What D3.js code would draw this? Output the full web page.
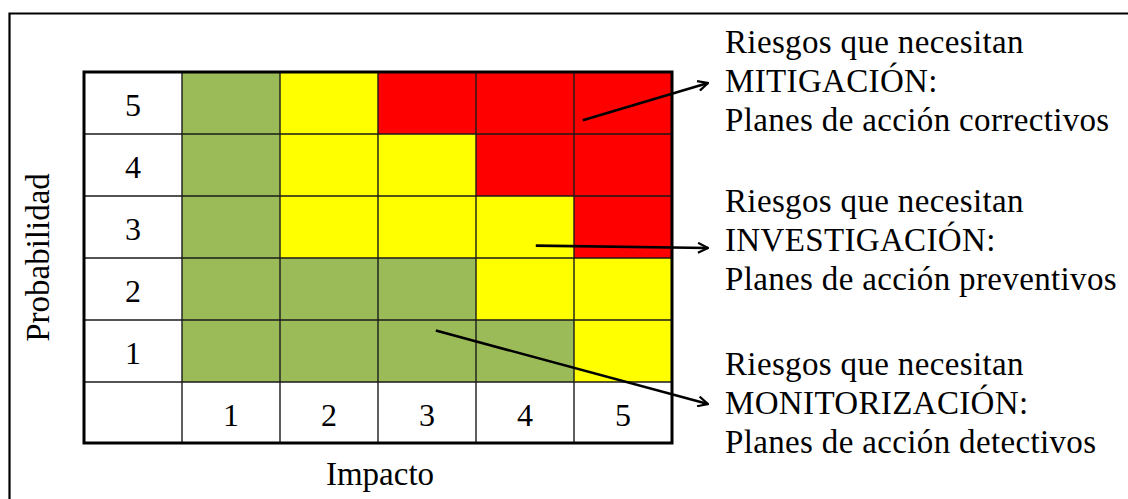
<!DOCTYPE html>
<html>
<head>
<meta charset="utf-8">
<script src="https://cdn.jsdelivr.net/npm/d3@7"></script>
<style>
  html, body { margin: 0; padding: 0; background: #fff; }
  svg { display: block; }
  text { font-family: "Liberation Serif", "Times New Roman", serif; fill: #000; }
</style>
</head>
<body>
<svg id="chart" width="1128" height="499"></svg>
<script>
// Risk matrix: impact (columns) vs probability (rows)
const impacto = [1, 2, 3, 4, 5];
const probabilidad = [5, 4, 3, 2, 1];

// Risk level per row, from impact 1 to 5
const nivelP5 = ["bajo", "medio", "alto", "alto", "alto"];
const nivelP4 = ["bajo", "medio", "medio", "alto", "alto"];
const nivelP3 = ["bajo", "medio", "medio", "medio", "alto"];
const nivelP2 = ["bajo", "bajo", "bajo", "medio", "medio"];
const nivelP1 = ["bajo", "bajo", "bajo", "bajo", "medio"];
const niveles = [nivelP5, nivelP4, nivelP3, nivelP2, nivelP1];

const coloresNivel = { bajo: "#9bbb59", medio: "#ffff00", alto: "#ff0000" };

// Callout text blocks and the cell each arrow starts from
const textoMitigacion = ["Riesgos que necesitan", "MITIGACIÓN:", "Planes de acción correctivos"];
const textoInvestigacion = ["Riesgos que necesitan", "INVESTIGACIÓN:", "Planes de acción preventivos"];
const textoMonitorizacion = ["Riesgos que necesitan", "MONITORIZACIÓN:", "Planes de acción detectivos"];
const celdaMitigacion = { impacto: 5, probabilidad: 5 };
const celdaInvestigacion = { impacto: 4, probabilidad: 3 };
const celdaMonitorizacion = { impacto: 3, probabilidad: 1 };

const svg = d3.select("#chart");
const fontSize = 32;

// Outer frame
svg.append("path")
  .attr("d", "M9.5,1200 L9.5,13.5 L1200,13.5")
  .attr("fill", "none").attr("stroke", "#000").attr("stroke-width", 2.2);

// Layout of the table
const gridLeft = 84, labelRight = 182, gridRight = 672;
const gridTop = 72, cellsBottom = 382, gridBottom = 443;

const x = d3.scaleBand().domain(impacto).range([labelRight, gridRight]);
const y = d3.scaleBand().domain(probabilidad).range([gridTop, cellsBottom]);

// Cells
const cells = [];
probabilidad.forEach((p, i) => impacto.forEach((im, j) => cells.push({ p, im, nivel: niveles[i][j] })));
svg.append("g").selectAll("rect").data(cells).join("rect")
  .attr("x", d => x(d.im)).attr("y", d => y(d.p))
  .attr("width", x.bandwidth()).attr("height", y.bandwidth())
  .attr("fill", d => coloresNivel[d.nivel]);

// Interior grid lines
const lines = svg.append("g").attr("stroke", "#1a1a1a").attr("stroke-width", 1.4);
[labelRight, ...impacto.slice(1).map(d => x(d))].forEach(xv =>
  lines.append("line").attr("x1", xv).attr("x2", xv).attr("y1", gridTop).attr("y2", gridBottom));
[...probabilidad.slice(1).map(d => y(d)), cellsBottom].forEach(yv =>
  lines.append("line").attr("x1", gridLeft).attr("x2", gridRight).attr("y1", yv).attr("y2", yv));

// Outer border of the table
svg.append("rect")
  .attr("x", gridLeft).attr("y", gridTop)
  .attr("width", gridRight - gridLeft).attr("height", gridBottom - gridTop)
  .attr("fill", "none").attr("stroke", "#000").attr("stroke-width", 3);

// Row labels (probability)
svg.append("g").selectAll("text").data(probabilidad).join("text")
  .attr("x", (gridLeft + labelRight) / 2)
  .attr("y", d => y(d) + y.bandwidth() / 2 + 13)
  .attr("text-anchor", "middle").attr("font-size", fontSize)
  .text(d => d);

// Column labels (impact)
svg.append("g").selectAll("text").data(impacto).join("text")
  .attr("x", d => x(d) + x.bandwidth() / 2)
  .attr("y", (cellsBottom + gridBottom) / 2 + 13)
  .attr("text-anchor", "middle").attr("font-size", fontSize)
  .text(d => d);

// Axis titles
svg.append("text")
  .attr("x", (labelRight + gridRight) / 2 - 47).attr("y", 485)
  .attr("text-anchor", "middle").attr("font-size", 33)
  .text("Impacto");
svg.append("text")
  .attr("transform", `translate(49,${(gridTop + gridBottom) / 2}) rotate(-90)`)
  .attr("text-anchor", "middle").attr("font-size", 33)
  .text("Probabilidad");

// Arrow marker
svg.append("defs").append("marker")
  .attr("id", "flecha").attr("viewBox", "0 0 12 12")
  .attr("refX", 11).attr("refY", 6)
  .attr("markerWidth", 12).attr("markerHeight", 12)
  .attr("markerUnits", "userSpaceOnUse")
  .attr("orient", "auto")
  .append("path").attr("d", "M1,1 L11,6 L1,11")
  .attr("fill", "none").attr("stroke", "#000").attr("stroke-width", 2.2);

const textX = 725, lineGap = 39;
function callout(lines, baseline, celda, fx, fy, tipY) {
  const sx = x(celda.impacto) + fx * x.bandwidth();
  const sy = y(celda.probabilidad) + fy * y.bandwidth();
  svg.append("line")
    .attr("x1", sx).attr("y1", sy).attr("x2", 708).attr("y2", tipY)
    .attr("stroke", "#000").attr("stroke-width", 2.6)
    .attr("marker-end", "url(#flecha)");
  svg.append("g").selectAll("text").data(lines).join("text")
    .attr("x", textX).attr("y", (d, i) => baseline + i * lineGap)
    .attr("font-size", 33).attr("letter-spacing", 0.35)
    .text(d => d);
}
callout(textoMitigacion, 53, celdaMitigacion, 0.09, 0.78, 83);
callout(textoInvestigacion, 212, celdaInvestigacion, 0.61, 0.8, 248);
callout(textoMonitorizacion, 375, celdaMonitorizacion, 0.59, 0.17, 404);
</script>
</body>
</html>
